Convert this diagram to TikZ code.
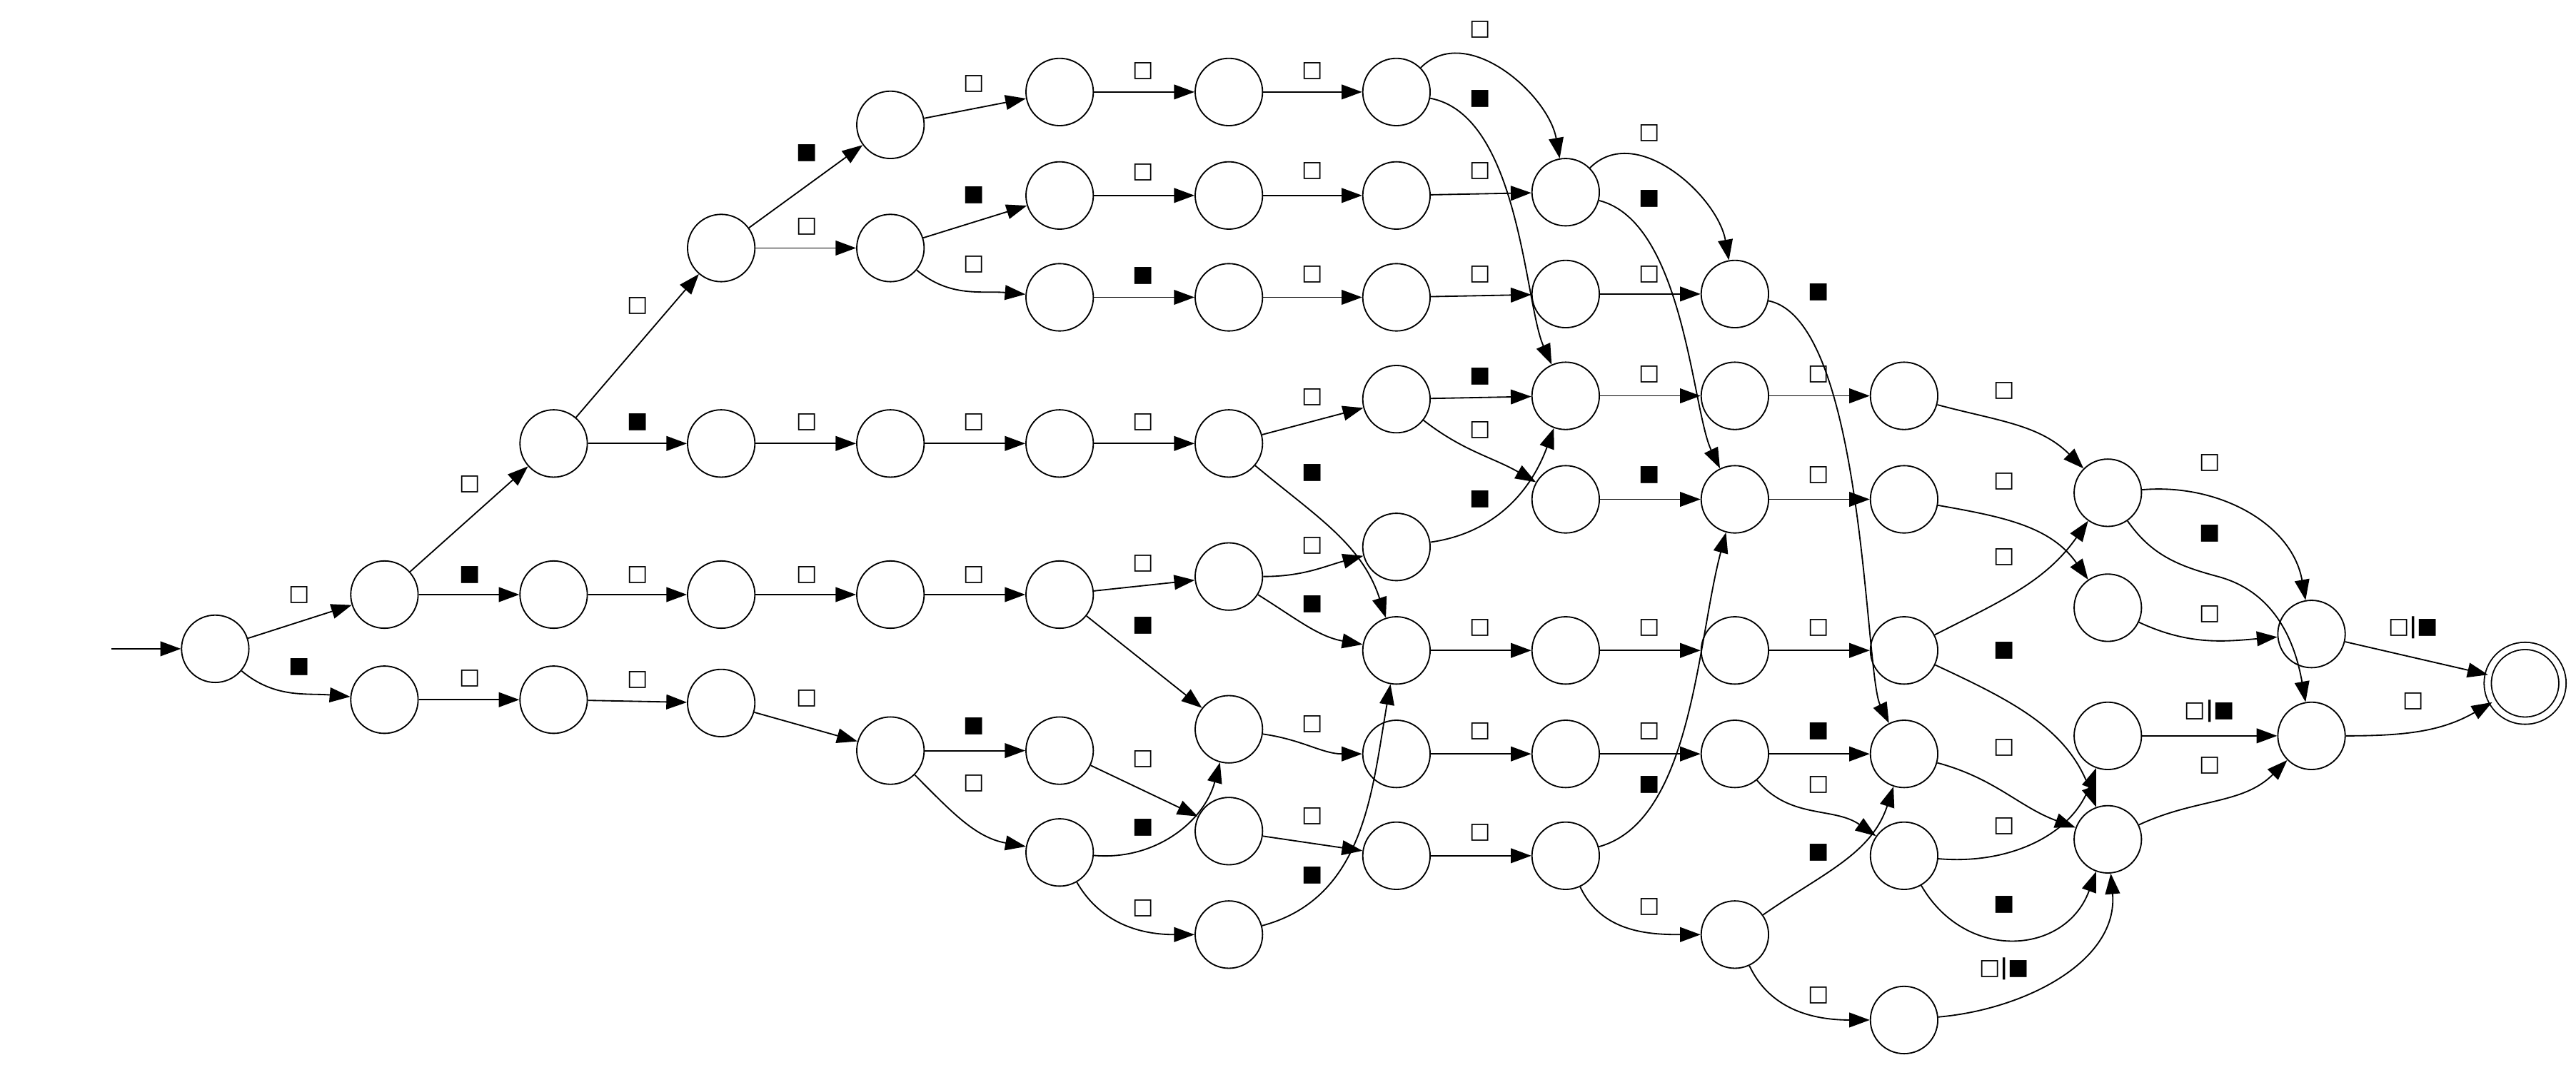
\documentclass[tikz,border=0pt]{standalone}
\usepackage{fontspec}
\newfontfamily\lblfont{DejaVu Sans}
\usetikzlibrary{arrows.meta}
\begin{document}
\begin{tikzpicture}[x=1pt,y=1pt,
  state/.style={circle,draw,line width=0.8pt,minimum size=41pt,inner sep=0pt},
  accept/.style={circle,draw,line width=0.8pt,minimum size=45.5pt,inner sep=0pt,double,double distance=3.6pt},
  tr/.style={line width=0.8pt,-{Triangle[length=12.5pt,width=9pt]}},
  lbl/.style={font=\lblfont\bfseries\fontsize{13.5}{15}\selectfont,inner sep=0pt}]
\useasboundingbox (0,0) rectangle (1568,-648.4);
% states
\node[state] (n0) at (131,-395) {};
\node[state] (a1) at (234,-362) {};
\node[state] (a2) at (234,-426) {};
\node[state] (b1) at (337,-270) {};
\node[state] (b2) at (337,-362) {};
\node[state] (b3) at (337,-426) {};
\node[state] (c1) at (439,-151) {};
\node[state] (c2) at (439,-270) {};
\node[state] (c3) at (439,-362) {};
\node[state] (c4) at (439,-428) {};
\node[state] (d1) at (542,-76) {};
\node[state] (d2) at (542,-151) {};
\node[state] (d3) at (542,-270) {};
\node[state] (d4) at (542,-362) {};
\node[state] (d5) at (542,-457) {};
\node[state] (e1) at (645,-56) {};
\node[state] (e2) at (645,-119) {};
\node[state] (e3) at (645,-181) {};
\node[state] (e4) at (645,-270) {};
\node[state] (e5) at (645,-362) {};
\node[state] (e6) at (645,-457) {};
\node[state] (e7) at (645,-519) {};
\node[state] (f1) at (748,-56) {};
\node[state] (f2) at (748,-119) {};
\node[state] (f3) at (748,-181) {};
\node[state] (f4) at (748,-270) {};
\node[state] (f5) at (748,-351) {};
\node[state] (f6) at (748,-444) {};
\node[state] (f7) at (748,-506) {};
\node[state] (f8) at (748,-569) {};
\node[state] (g1) at (850,-56) {};
\node[state] (g2) at (850,-119) {};
\node[state] (g3) at (850,-181) {};
\node[state] (g4) at (850,-243) {};
\node[state] (g5) at (850,-333) {};
\node[state] (g6) at (850,-396) {};
\node[state] (g7) at (850,-459) {};
\node[state] (g8) at (850,-521) {};
\node[state] (h1) at (953,-117) {};
\node[state] (h2) at (953,-179) {};
\node[state] (h3) at (953,-241) {};
\node[state] (h4) at (953,-304) {};
\node[state] (h5) at (953,-396) {};
\node[state] (h6) at (953,-459) {};
\node[state] (h7) at (953,-521) {};
\node[state] (i1) at (1056,-179) {};
\node[state] (i2) at (1056,-241) {};
\node[state] (i3) at (1056,-304) {};
\node[state] (i4) at (1056,-396) {};
\node[state] (i5) at (1056,-459) {};
\node[state] (i6) at (1056,-569) {};
\node[state] (j1) at (1159,-241) {};
\node[state] (j2) at (1159,-304) {};
\node[state] (j3) at (1159,-396) {};
\node[state] (j4) at (1159,-459) {};
\node[state] (j5) at (1159,-521) {};
\node[state] (j6) at (1159,-621) {};
\node[state] (k1) at (1283,-300) {};
\node[state] (k2) at (1283,-370) {};
\node[state] (k3) at (1283,-448) {};
\node[state] (k4) at (1283,-511) {};
\node[state] (l1) at (1407,-386) {};
\node[state] (l2) at (1407,-448) {};
\node[accept] (fin) at (1537,-416) {};
\coordinate (start) at (68,-395);
% transitions
\draw[tr] (start) -- (n0);
\draw[tr] (n0) -- (a1) node[lbl] (t01) at (182,-362) {□};
\draw[tr] (n0) to[out=-40,in=175] (a2) node[lbl] (t02) at (182,-406) {■};
\draw[tr] (a1) -- (b1) node[lbl] (t03) at (286,-295) {□};
\draw[tr] (a1) -- (b2) node[lbl] (t04) at (286,-350) {■};
\draw[tr] (a2) -- (b3) node[lbl] (t05) at (286,-413) {□};
\draw[tr] (b1) -- (c1) node[lbl] (t06) at (388,-186) {□};
\draw[tr] (b1) -- (c2) node[lbl] (t07) at (388,-257) {■};
\draw[tr] (b2) -- (c3) node[lbl] (t08) at (388,-350) {□};
\draw[tr] (b3) -- (c4) node[lbl] (t09) at (388,-414) {□};
\draw[tr] (c1) -- (d1) node[lbl] (t10) at (491,-93) {■};
\draw[tr] (c1) -- (d2) node[lbl] (t11) at (491,-138) {□};
\draw[tr] (c2) -- (d3) node[lbl] (t12) at (491,-257) {□};
\draw[tr] (c3) -- (d4) node[lbl] (t13) at (491,-350) {□};
\draw[tr] (c4) -- (d5) node[lbl] (t14) at (491,-425) {□};
\draw[tr] (d1) -- (e1) node[lbl] (t15) at (593,-51) {□};
\draw[tr] (d2) -- (e2) node[lbl] (t16) at (593,-119) {■};
\draw[tr] (d2) to[out=-40,in=175] (e3) node[lbl] (t17) at (593,-161) {□};
\draw[tr] (d3) -- (e4) node[lbl] (t18) at (593,-257) {□};
\draw[tr] (d4) -- (e5) node[lbl] (t19) at (593,-350) {□};
\draw[tr] (d5) -- (e6) node[lbl] (t20) at (593,-442) {■};
\draw[tr] (d5) to[out=-45,in=170] (e7) node[lbl] (t21) at (593,-477) {□};
\draw[tr] (e1) -- (f1) node[lbl] (t22) at (696,-43) {□};
\draw[tr] (e2) -- (f2) node[lbl] (t23) at (696,-105) {□};
\draw[tr] (e3) -- (f3) node[lbl] (t24) at (696,-168) {■};
\draw[tr] (e4) -- (f4) node[lbl] (t25) at (696,-257) {□};
\draw[tr] (e5) -- (f5) node[lbl] (t26) at (696,-343) {□};
\draw[tr] (e5) -- (f6) node[lbl] (t27) at (696,-381) {■};
\draw[tr] (e6) -- (f7) node[lbl] (t28) at (696,-462) {□};
\draw[tr] (e7) to[out=-5,in=-105] (f6) node[lbl] (t29) at (696,-504) {■};
\draw[tr] (e7) to[out=-60,in=180] (f8) node[lbl] (t30) at (696,-553) {□};
\draw[tr] (f1) -- (g1) node[lbl] (t31) at (799,-43) {□};
\draw[tr] (f2) -- (g2) node[lbl] (t32) at (799,-104) {□};
\draw[tr] (f3) -- (g3) node[lbl] (t33) at (799,-167) {□};
\draw[tr] (f4) -- (g4) node[lbl] (t34) at (799,-242) {□};
\draw[tr] (f4) to[out=-40,in=108] (g6) node[lbl] (t35) at (799,-288) {■};
\draw[tr] (f5) to[out=0,in=195] (g5) node[lbl] (t36) at (799,-332) {□};
\draw[tr] (f5) to[out=-32,in=170] (g6) node[lbl] (t37) at (799,-368) {■};
\draw[tr] (f6) to[out=-8,in=180] (g7) node[lbl] (t38) at (799,-441) {□};
\draw[tr] (f7) -- (g8) node[lbl] (t39) at (799,-497) {□};
\draw[tr] (f8) to[out=15,in=-100] (g6) node[lbl] (t40) at (799,-533) {■};
\draw[tr] (g1) to[out=45,in=100] (h1) node[lbl] (t41) at (901,-18) {□};
\draw[tr] (g1) .. controls (925,-70) and (928,-185) .. (h3) node[lbl] (t42) at (901,-60) {■};
\draw[tr] (g2) -- (h1) node[lbl] (t43) at (901,-104) {□};
\draw[tr] (g3) -- (h2) node[lbl] (t44) at (901,-167) {□};
\draw[tr] (g4) -- (h3) node[lbl] (t45) at (901,-229) {■};
\draw[tr] (g4) to[out=-38,in=150] (h4) node[lbl] (t46) at (901,-262) {□};
\draw[tr] (g5) to[out=8,in=-110] (h3) node[lbl] (t47) at (901,-304) {■};
\draw[tr] (g6) -- (h5) node[lbl] (t48) at (901,-382) {□};
\draw[tr] (g7) -- (h6) node[lbl] (t49) at (901,-445) {□};
\draw[tr] (g8) -- (h7) node[lbl] (t50) at (901,-507) {□};
\draw[tr] (h1) to[out=45,in=100] (i1) node[lbl] (t51) at (1004,-81) {□};
\draw[tr] (h1) .. controls (1025,-135) and (1030,-250) .. (i3) node[lbl] (t52) at (1004,-121) {■};
\draw[tr] (h2) -- (i1) node[lbl] (t53) at (1004,-167) {□};
\draw[tr] (h3) -- (i2) node[lbl] (t54) at (1004,-228) {□};
\draw[tr] (h4) -- (i3) node[lbl] (t55) at (1004,-289) {■};
\draw[tr] (h5) -- (i4) node[lbl] (t56) at (1004,-382) {□};
\draw[tr] (h6) -- (i5) node[lbl] (t57) at (1004,-445) {□};
\draw[tr] (h7) .. controls (1030,-500) and (1033,-390) .. (i3) node[lbl] (t58) at (1004,-478) {■};
\draw[tr] (h7) to[out=-65,in=180] (i6) node[lbl] (t59) at (1004,-552) {□};
\draw[tr] (i1) .. controls (1135,-195) and (1135,-410) .. (j4) node[lbl] (t60) at (1107,-178) {■};
\draw[tr] (i2) -- (j1) node[lbl] (t61) at (1107,-228) {□};
\draw[tr] (i3) -- (j2) node[lbl] (t62) at (1107,-289) {□};
\draw[tr] (i4) -- (j3) node[lbl] (t63) at (1107,-382) {□};
\draw[tr] (i5) -- (j4) node[lbl] (t64) at (1107,-445) {■};
\draw[tr] (i5) to[out=-50,in=145] (j5) node[lbl] (t65) at (1107,-478) {□};
\draw[tr] (i6) to[out=35,in=-108] (j4) node[lbl] (t66) at (1107,-519) {■};
\draw[tr] (i6) to[out=-65,in=180] (j6) node[lbl] (t67) at (1107,-606) {□};
\draw[tr] (j1) to[out=-15,in=135] (k1) node[lbl] (t68) at (1220,-238) {□};
\draw[tr] (j2) to[out=-10,in=125] (k2) node[lbl] (t69) at (1220,-293) {□};
\draw[tr] (j3) to[out=27,in=-125] (k1) node[lbl] (t70) at (1220,-339) {□};
\draw[tr] (j3) to[out=-25,in=110] (k4) node[lbl] (t71) at (1220,-396) {■};
\draw[tr] (j4) to[out=-15,in=160] (k4) node[lbl] (t72) at (1220,-455) {□};
\draw[tr] (j5) to[out=-5,in=-110] (k3) node[lbl] (t73) at (1220,-503) {□};
\draw[tr] (j5) to[out=-60,in=-110,looseness=1.3] (k4) node[lbl] (t74) at (1220,-551) {■};
\draw[tr] (j6) to[out=5,in=-85] (k4) node[lbl] (t75) at (1220,-590) {□|■};
\draw[tr] (k1) to[out=5,in=100] (l1) node[lbl] (t76) at (1345,-282) {□};
\draw[tr] (k1) to[out=-55,in=165] (1350,-351) to[out=-15,in=100] (l2) node[lbl] (t77) at (1345,-325) {■};
\draw[tr] (k2) to[out=-25,in=185] (l1) node[lbl] (t78) at (1345,-374) {□};
\draw[tr] (k3) -- (l2) node[lbl] (t79) at (1345,-433) {□|■};
\draw[tr] (k4) to[out=25,in=-135] (l2) node[lbl] (t80) at (1345,-466) {□};
\draw[tr] (l1) -- (fin) node[lbl] (t81) at (1469,-382) {□|■};
\draw[tr] (l2) to[out=0,in=-150] (fin) node[lbl] (t82) at (1469,-427) {□};
\end{tikzpicture}
\end{document}
